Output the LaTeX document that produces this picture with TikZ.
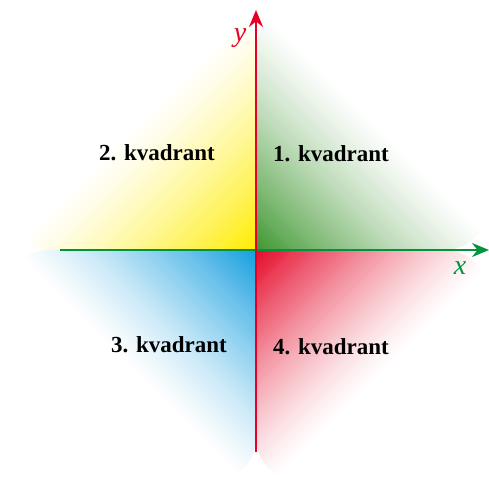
\documentclass[tikz,border=0pt]{standalone}
\usepackage{fontspec}
\setmainfont{Liberation Serif}
\usetikzlibrary{arrows.meta}
\definecolor{qgreen}{RGB}{62,150,48}
\definecolor{qyellow}{RGB}{255,236,0}
\definecolor{qblue}{RGB}{20,158,222}
\definecolor{qred}{RGB}{228,8,40}
\definecolor{axgreen}{RGB}{0,148,62}
\definecolor{axred}{RGB}{228,0,38}
% #1 colour, #2 xscale, #3 yscale, #4 width, #5 height, #6 fade length
\newcommand\myquadfill[6]{%
  \begin{scope}[shift={(O)}, xscale=#2, yscale=#3]
    \clip (0,0) -- ({#4-45},0) arc[start angle=-90, end angle=0, radius=45]
      -- (#4,{#5-45}) arc[start angle=0, end angle=90, radius=45]
      -- (45,#5) arc[start angle=90, end angle=180, radius=45] -- cycle;
    \foreach \i in {0,...,119} {
      \pgfmathsetmacro\qa{(\i/120)*#6}
      \pgfmathsetmacro\qb{((\i+1.3)/120)*#6}
      \pgfmathtruncatemacro\qp{round(100*(1-(\i+0.5)/120)^1.3)}
      \fill[#1!\qp!white] (\qa,0) -- (\qb,0) -- (0,\qb) -- (0,\qa) -- cycle;
    }
  \end{scope}}
\begin{document}
\begin{tikzpicture}[x=1pt,y=1pt,
  quadlabel/.style={font=\bfseries\fontsize{23}{26}\selectfont, text=black, inner sep=0pt},
  axislabel/.style={font=\itshape\fontsize{28}{30}\selectfont, inner sep=0pt},
  axisline/.style={line width=2.3pt, -{Stealth[length=17pt,width=14pt]}}]
\useasboundingbox (0,0) rectangle (489,482);
\coordinate (O) at (256,232);
\myquadfill{qgreen}{1}{1}{233}{245}{250}
\myquadfill{qyellow}{-1}{1}{250}{245}{250}
\myquadfill{qblue}{-1}{-1}{252}{232}{246}
\myquadfill{qred}{1}{-1}{233}{232}{250}
\coordinate (xl) at (60,232);
\coordinate (xr) at (489,232);
\coordinate (yb) at (256,30);
\coordinate (yt) at (256,472);
\draw[axisline, axgreen] (xl) -- (xr);
\draw[axisline, axred] (yb) -- (yt);
\node[axislabel, text=axgreen] (xlab) at (460,214) {x};
\node[axislabel, text=axred] (ylab) at (240,444) {y};
\node[quadlabel] (q1) at (331,328) {1. kvadrant};
\node[quadlabel] (q2) at (157,329) {2. kvadrant};
\node[quadlabel] (q3) at (169,137) {3. kvadrant};
\node[quadlabel] (q4) at (331,135) {4. kvadrant};
\end{tikzpicture}
\end{document}
